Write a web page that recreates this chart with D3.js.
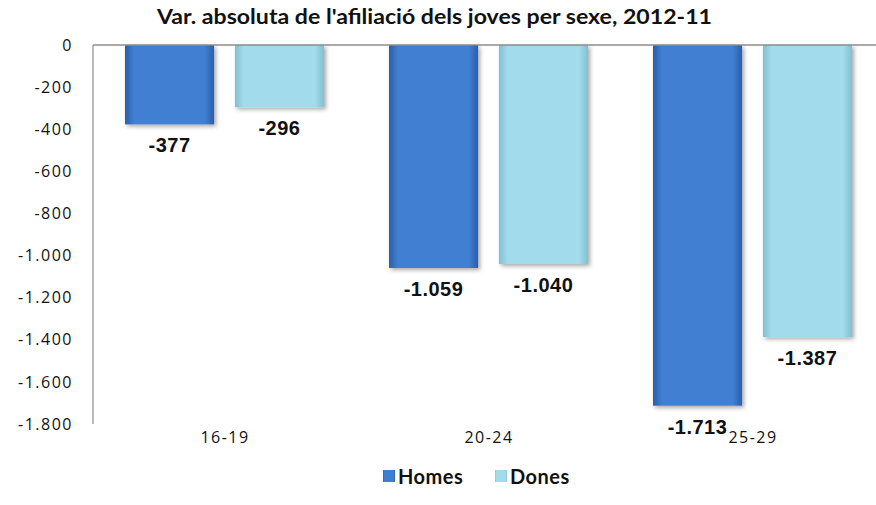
<!DOCTYPE html>
<html>
<head>
<meta charset="utf-8">
<script src="https://cdn.jsdelivr.net/npm/d3@7"></script>
<style>
  body { margin: 0; background: #fff; }
  svg { display: block; }
</style>
</head>
<body>
<svg width="876" height="505"></svg>
<script>
const categories = ["16-19", "20-24", "25-29"];
const series = ["Homes", "Dones"];
const homes = [-377, -1059, -1713];
const dones = [-296, -1040, -1387];
const yTicks = [0, -200, -400, -600, -800, -1000, -1200, -1400, -1600, -1800];
const title = "Var. absoluta de l'afiliació  dels joves per sexe, 2012-11";

const data = categories.map((c, i) => ({ cat: c, Homes: homes[i], Dones: dones[i] }));

const loc = d3.formatLocale({ decimal: ",", thousands: ".", grouping: [3], currency: ["", "€"], minus: "-" });
const fmt = loc.format(",d");

const svg = d3.select("svg");
const colors = { Homes: ["#2b5ea6", "#3f7fd2", "#2b5ea6"], Dones: ["#80c0d3", "#a2dbeb", "#80c0d3"] };

const defs = svg.append("defs");
series.forEach(s => {
  const g = defs.append("linearGradient").attr("id", "grad-" + s).attr("x1", 0).attr("x2", 1).attr("y1", 0).attr("y2", 0);
  g.append("stop").attr("offset", "0%").attr("stop-color", colors[s][0]);
  g.append("stop").attr("offset", "10%").attr("stop-color", colors[s][1]);
  g.append("stop").attr("offset", "90%").attr("stop-color", colors[s][1]);
  g.append("stop").attr("offset", "100%").attr("stop-color", colors[s][2]);
});
const shadow = defs.append("filter").attr("id", "shadow").attr("x", "-10%").attr("y", "-10%").attr("width", "130%").attr("height", "130%");
shadow.append("feDropShadow").attr("dx", 2).attr("dy", 2).attr("stdDeviation", 2).attr("flood-color", "#000").attr("flood-opacity", 0.35);

const x0 = d3.scaleBand().domain(categories).range([91, 883]);
const x1 = d3.scaleBand().domain(series).range([34, 233]).paddingInner(0.19);
const y = d3.scaleLinear().domain([-1800, 0]).range([424, 45]);

// title
svg.append("text")
  .attr("x", 157).attr("y", 24)
  .attr("textLength", 555)
  .attr("lengthAdjust", "spacingAndGlyphs")
  .style("font-family", "Lato, 'Open Sans', sans-serif")
  .style("font-weight", 700)
  .style("font-size", "20px")
  .attr("fill", "#111")
  .text(title);

// y axis labels
const yAxis = d3.axisLeft(y).tickValues(yTicks).tickFormat(fmt).tickSize(0).tickPadding(20);
const gy = svg.append("g").attr("transform", "translate(93,0)").call(yAxis);
gy.select(".domain").remove();
gy.selectAll("text")
  .style("font-family", "'Open Sans', sans-serif")
  .style("font-size", "16px")
  .style("letter-spacing", "1.5px")
  .attr("fill", "#111");

svg.append("line").attr("x1", 93).attr("x2", 93).attr("y1", y(0)).attr("y2", y(-1800))
  .attr("stroke", "#8c8c8c").attr("stroke-width", 1.2);

// bars
const groups = svg.append("g").selectAll("g").data(data).join("g")
  .attr("transform", d => `translate(${x0(d.cat)},0)`);

groups.selectAll("rect").data(d => series.map(s => ({ s, v: d[s] }))).join("rect")
  .attr("x", d => x1(d.s))
  .attr("y", y(0))
  .attr("width", x1.bandwidth())
  .attr("height", d => y(d.v) - y(0))
  .attr("fill", d => `url(#grad-${d.s})`)
  .attr("filter", "url(#shadow)");

groups.selectAll("text").data(d => series.map(s => ({ s, v: d[s] }))).join("text")
  .attr("x", d => x1(d.s) + x1.bandwidth() / 2)
  .attr("y", d => y(d.v) + 28)
  .attr("text-anchor", "middle")
  .style("font-family", "'Liberation Sans', Arial, sans-serif")
  .style("font-weight", 700)
  .style("font-size", "20px")
  .style("letter-spacing", "0.5px")
  .attr("fill", "#111")
  .text(d => fmt(d.v));

// zero line
svg.append("line").attr("x1", 93).attr("x2", 876).attr("y1", y(0)).attr("y2", y(0))
  .attr("stroke", "#8c8c8c").attr("stroke-width", 1.5);

// x axis labels
svg.append("g").selectAll("text").data(categories).join("text")
  .attr("x", d => x0(d) + x0.bandwidth() / 2 + 2)
  .attr("y", 443)
  .attr("text-anchor", "middle")
  .style("font-family", "'Open Sans', sans-serif")
  .style("font-size", "16px")
  .style("letter-spacing", "1.5px")
  .attr("fill", "#111")
  .text(d => d);

// legend
const legend = svg.append("g").attr("transform", "translate(383,483)");
const litems = legend.selectAll("g").data(series).join("g")
  .attr("transform", (d, i) => `translate(${i * 112},0)`);
litems.append("rect").attr("x", 0).attr("y", -13).attr("width", 12).attr("height", 12)
  .attr("fill", d => `url(#grad-${d})`);
litems.append("text").attr("x", 15).attr("y", 1)
  .style("font-family", "Lato, sans-serif")
  .style("font-weight", 700)
  .style("font-size", "20px")
  .style("letter-spacing", "0.5px")
  .attr("fill", "#111")
  .text(d => d);
</script>
</body>
</html>
